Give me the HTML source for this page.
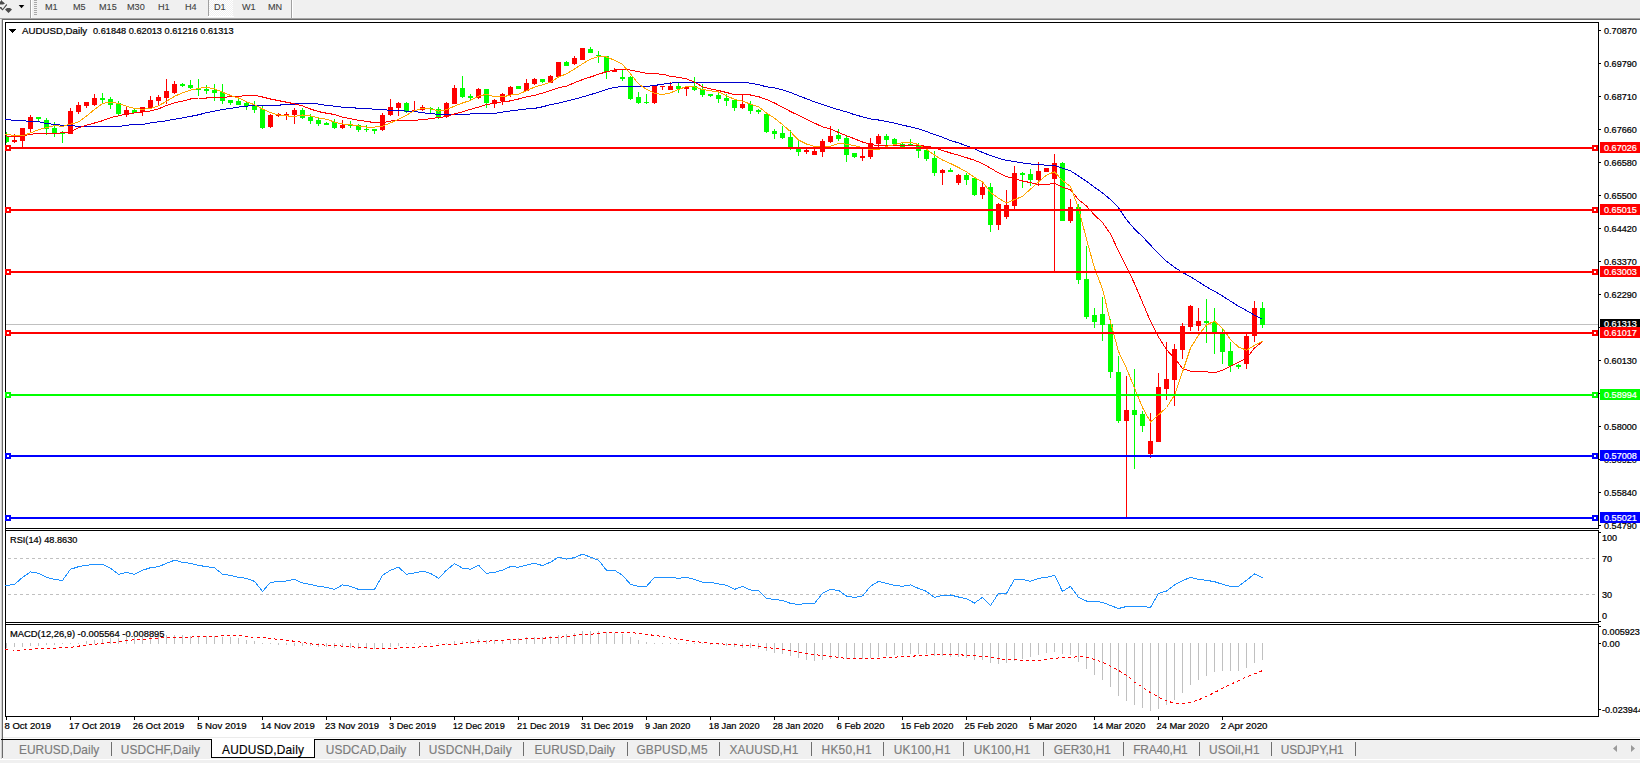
<!DOCTYPE html>
<html><head><meta charset="utf-8"><title>AUDUSD,Daily</title>
<style>
html,body{margin:0;padding:0;background:#fff}
body{width:1640px;height:763px;position:relative;overflow:hidden;font-family:"Liberation Sans",sans-serif}
#tbar{position:absolute;left:0;top:0;width:1640px;height:18px;background:#f0f0f0}
.tf{position:absolute;top:0.5px;font-size:9.8px;line-height:12px;color:#404040;white-space:nowrap;transform:scaleX(.93);transform-origin:0 0;-webkit-text-stroke:0.1px #404040}
#l18{position:absolute;left:0;top:18px;width:1640px;height:1px;background:#a6a6a6}
#l19{position:absolute;left:2px;top:19px;width:1638px;height:1px;background:#696969}
#lb{position:absolute;left:2px;top:19px;width:1px;height:739px;background:#696969}
#lb0{position:absolute;left:0;top:19px;width:2px;height:744px;background:#f0f0f0}
#lb1{position:absolute;left:1px;top:19px;width:1px;height:740px;background:#cfcfcf}
#tabs{position:absolute;left:3px;top:740px;width:1637px;height:19px;background:#f0f0f0}
#tl0{position:absolute;left:3px;top:737px;width:1637px;height:1px;background:#ebebeb}
#tl1{position:absolute;left:1px;top:739px;width:1639px;height:1px;background:#000}
#foot{position:absolute;left:0;top:759px;width:1640px;height:4px;background:#f0f0f0;border-top:1px solid #fff;box-sizing:border-box}
.tb{position:absolute;top:742.7px;font-size:11.9px;line-height:14px;color:#7b7b7b;white-space:nowrap;-webkit-text-stroke:0.15px}
.tb.act{color:#000}
.sp{position:absolute;top:742px;width:1px;height:14px;background:#6e6e6e}
#act{position:absolute;left:211px;top:739px;width:104px;height:19px;background:#fff;border:1px solid #000;border-top:none;box-sizing:border-box}
</style></head><body>
<div id="tbar">
<svg width="30" height="18" style="position:absolute;left:0;top:0"><path d="M0 1.5l1-.3V0h.7v1.1l1 .3L5 3.4 3 4.6H0z M0 7h1.3l1.3 2L6.4 4l.8 1L2.6 10.4 0 8.2z M5 9.4l2-1.3h3l2 1.3L8.5 13z" fill="#4a4a4a"/><path d="M18.7 5h5.6l-2.8 3.2z" fill="#000"/></svg>
<i style="position:absolute;left:30px;top:0;width:1px;height:18px;background:#a0a0a0"></i><i style="position:absolute;left:31px;top:0;width:1px;height:18px;background:#fff"></i>
<i style="position:absolute;left:34px;top:0px;width:3px;height:1px;background:#a8a8a8"></i><i style="position:absolute;left:34px;top:2px;width:3px;height:1px;background:#a8a8a8"></i><i style="position:absolute;left:34px;top:4px;width:3px;height:1px;background:#a8a8a8"></i><i style="position:absolute;left:34px;top:6px;width:3px;height:1px;background:#a8a8a8"></i><i style="position:absolute;left:34px;top:8px;width:3px;height:1px;background:#a8a8a8"></i><i style="position:absolute;left:34px;top:10px;width:3px;height:1px;background:#a8a8a8"></i><i style="position:absolute;left:34px;top:12px;width:3px;height:1px;background:#a8a8a8"></i><i style="position:absolute;left:34px;top:14px;width:3px;height:1px;background:#a8a8a8"></i>
<i style="position:absolute;left:208px;top:0;width:1px;height:16px;background:#a0a0a0"></i>
<i style="position:absolute;left:209px;top:0;width:24px;height:16px;background:repeating-conic-gradient(#fff 0 25%,#f0f0f0 0 50%) 0 0/2px 2px"></i>
<i style="position:absolute;left:208px;top:16px;width:26px;height:1px;background:#fff"></i>
<i style="position:absolute;left:291px;top:0;width:1px;height:18px;background:#a0a0a0"></i><i style="position:absolute;left:292px;top:0;width:1px;height:18px;background:#fff"></i>
<span class="tf" style="left:45px">M1</span><span class="tf" style="left:73.3px">M5</span><span class="tf" style="left:99px">M15</span><span class="tf" style="left:127px">M30</span><span class="tf" style="left:157.8px">H1</span><span class="tf" style="left:185px">H4</span><span class="tf" style="left:213.8px">D1</span><span class="tf" style="left:242px">W1</span><span class="tf" style="left:268px">MN</span>
</div>
<div id="l18"></div><div id="l19"></div><div id="lb0"></div><div id="lb1"></div><div id="lb"></div>
<svg width="1640" height="763" viewBox="0 0 1640 763" style="position:absolute;left:0;top:0" font-family="Liberation Sans, sans-serif">
<defs><clipPath id="cm"><rect x="1600" y="500" width="40" height="29"/></clipPath></defs>
<g shape-rendering="crispEdges">
<rect x="5" y="22" width="1594" height="1" fill="#000"/>
<rect x="5" y="22" width="1" height="695" fill="#000"/>
<rect x="1598" y="22" width="1" height="507" fill="#000"/>
<rect x="5" y="528" width="1594" height="1" fill="#000"/>
<rect x="5" y="530" width="1594" height="1" fill="#000"/>
<rect x="1598" y="530" width="1" height="93" fill="#000"/>
<rect x="5" y="622" width="1594" height="1" fill="#000"/>
<rect x="5" y="624" width="1594" height="1" fill="#000"/>
<rect x="1598" y="624" width="1" height="93" fill="#000"/>
<rect x="5" y="716" width="1594" height="1" fill="#000"/>
<rect x="6" y="717" width="1" height="3" fill="#000"/>
<rect x="70" y="717" width="1" height="3" fill="#000"/>
<rect x="134" y="717" width="1" height="3" fill="#000"/>
<rect x="198" y="717" width="1" height="3" fill="#000"/>
<rect x="262" y="717" width="1" height="3" fill="#000"/>
<rect x="326" y="717" width="1" height="3" fill="#000"/>
<rect x="390" y="717" width="1" height="3" fill="#000"/>
<rect x="454" y="717" width="1" height="3" fill="#000"/>
<rect x="518" y="717" width="1" height="3" fill="#000"/>
<rect x="582" y="717" width="1" height="3" fill="#000"/>
<rect x="646" y="717" width="1" height="3" fill="#000"/>
<rect x="710" y="717" width="1" height="3" fill="#000"/>
<rect x="774" y="717" width="1" height="3" fill="#000"/>
<rect x="838" y="717" width="1" height="3" fill="#000"/>
<rect x="902" y="717" width="1" height="3" fill="#000"/>
<rect x="966" y="717" width="1" height="3" fill="#000"/>
<rect x="1030" y="717" width="1" height="3" fill="#000"/>
<rect x="1094" y="717" width="1" height="3" fill="#000"/>
<rect x="1158" y="717" width="1" height="3" fill="#000"/>
<rect x="1222" y="717" width="1" height="3" fill="#000"/>
<rect x="1599" y="30" width="2" height="1" fill="#000"/>
<rect x="1599" y="63" width="2" height="1" fill="#000"/>
<rect x="1599" y="96" width="2" height="1" fill="#000"/>
<rect x="1599" y="129" width="2" height="1" fill="#000"/>
<rect x="1599" y="162" width="2" height="1" fill="#000"/>
<rect x="1599" y="195" width="2" height="1" fill="#000"/>
<rect x="1599" y="228" width="2" height="1" fill="#000"/>
<rect x="1599" y="261" width="2" height="1" fill="#000"/>
<rect x="1599" y="294" width="2" height="1" fill="#000"/>
<rect x="1599" y="327" width="2" height="1" fill="#000"/>
<rect x="1599" y="360" width="2" height="1" fill="#000"/>
<rect x="1599" y="393" width="2" height="1" fill="#000"/>
<rect x="1599" y="426" width="2" height="1" fill="#000"/>
<rect x="1599" y="459" width="2" height="1" fill="#000"/>
<rect x="1599" y="492" width="2" height="1" fill="#000"/>
<rect x="1599" y="525" width="2" height="1" fill="#000"/>
<rect x="1599" y="532" width="2" height="1" fill="#000"/>
<rect x="1599" y="621" width="2" height="1" fill="#000"/>
<rect x="1599" y="626" width="2" height="1" fill="#000"/>
<rect x="1599" y="643" width="2" height="1" fill="#000"/>
<rect x="1599" y="709" width="2" height="1" fill="#000"/>
<rect x="6" y="324" width="1592" height="1" fill="#c0c0c0"/>
<path d="M8 558.5H1598M8 594.5H1598" stroke="#c0c0c0" stroke-width="1" stroke-dasharray="3 3" fill="none"/>
<g><rect x="6" y="132" width="1" height="11" fill="#00ff00"/><rect x="6" y="137" width="3" height="5" fill="#00ff00"/><rect x="14" y="134" width="1" height="9" fill="#ff0000"/><rect x="12" y="140" width="5" height="2" fill="#ff0000"/><rect x="22" y="128" width="1" height="19" fill="#ff0000"/><rect x="20" y="128" width="5" height="13" fill="#ff0000"/><rect x="30" y="115" width="1" height="18" fill="#ff0000"/><rect x="28" y="117" width="5" height="12" fill="#ff0000"/><rect x="38" y="117" width="1" height="4" fill="#00ff00"/><rect x="36" y="117" width="5" height="2" fill="#00ff00"/><rect x="46" y="118" width="1" height="17" fill="#00ff00"/><rect x="44" y="120" width="5" height="9" fill="#00ff00"/><rect x="54" y="122" width="1" height="15" fill="#00ff00"/><rect x="52" y="128" width="5" height="5" fill="#00ff00"/><rect x="62" y="131" width="1" height="12" fill="#00ff00"/><rect x="60" y="132" width="5" height="2" fill="#00ff00"/><rect x="70" y="108" width="1" height="26" fill="#ff0000"/><rect x="68" y="111" width="5" height="23" fill="#ff0000"/><rect x="78" y="102" width="1" height="12" fill="#ff0000"/><rect x="76" y="105" width="5" height="7" fill="#ff0000"/><rect x="86" y="102" width="1" height="6" fill="#ff0000"/><rect x="84" y="102" width="5" height="4" fill="#ff0000"/><rect x="94" y="94" width="1" height="12" fill="#ff0000"/><rect x="92" y="98" width="5" height="7" fill="#ff0000"/><rect x="102" y="93" width="1" height="10" fill="#00ff00"/><rect x="100" y="98" width="5" height="2" fill="#00ff00"/><rect x="110" y="97" width="1" height="12" fill="#00ff00"/><rect x="108" y="99" width="5" height="6" fill="#00ff00"/><rect x="118" y="101" width="1" height="14" fill="#00ff00"/><rect x="116" y="103" width="5" height="11" fill="#00ff00"/><rect x="126" y="107" width="1" height="10" fill="#ff0000"/><rect x="124" y="110" width="5" height="5" fill="#ff0000"/><rect x="134" y="109" width="1" height="4" fill="#00ff00"/><rect x="132" y="110" width="5" height="3" fill="#00ff00"/><rect x="142" y="107" width="1" height="9" fill="#ff0000"/><rect x="140" y="107" width="5" height="5" fill="#ff0000"/><rect x="150" y="96" width="1" height="12" fill="#ff0000"/><rect x="148" y="100" width="5" height="8" fill="#ff0000"/><rect x="158" y="95" width="1" height="10" fill="#ff0000"/><rect x="156" y="97" width="5" height="4" fill="#ff0000"/><rect x="166" y="79" width="1" height="25" fill="#ff0000"/><rect x="164" y="91" width="5" height="7" fill="#ff0000"/><rect x="174" y="81" width="1" height="13" fill="#ff0000"/><rect x="172" y="84" width="5" height="9" fill="#ff0000"/><rect x="182" y="83" width="1" height="4" fill="#00ff00"/><rect x="180" y="84" width="5" height="2" fill="#00ff00"/><rect x="190" y="80" width="1" height="9" fill="#00ff00"/><rect x="188" y="85" width="5" height="3" fill="#00ff00"/><rect x="198" y="79" width="1" height="17" fill="#00ff00"/><rect x="196" y="88" width="5" height="2" fill="#00ff00"/><rect x="206" y="85" width="1" height="9" fill="#00ff00"/><rect x="204" y="89" width="5" height="2" fill="#00ff00"/><rect x="214" y="84" width="1" height="17" fill="#00ff00"/><rect x="212" y="90" width="5" height="3" fill="#00ff00"/><rect x="222" y="84" width="1" height="20" fill="#00ff00"/><rect x="220" y="92" width="5" height="9" fill="#00ff00"/><rect x="230" y="100" width="1" height="5" fill="#00ff00"/><rect x="228" y="100" width="5" height="3" fill="#00ff00"/><rect x="238" y="99" width="1" height="6" fill="#00ff00"/><rect x="236" y="101" width="5" height="4" fill="#00ff00"/><rect x="246" y="102" width="1" height="8" fill="#00ff00"/><rect x="244" y="103" width="5" height="3" fill="#00ff00"/><rect x="254" y="101" width="1" height="12" fill="#00ff00"/><rect x="252" y="105" width="5" height="5" fill="#00ff00"/><rect x="262" y="106" width="1" height="23" fill="#00ff00"/><rect x="260" y="109" width="5" height="19" fill="#00ff00"/><rect x="270" y="114" width="1" height="14" fill="#ff0000"/><rect x="268" y="115" width="5" height="12" fill="#ff0000"/><rect x="278" y="113" width="1" height="4" fill="#ff0000"/><rect x="276" y="114" width="5" height="2" fill="#ff0000"/><rect x="286" y="112" width="1" height="8" fill="#ff0000"/><rect x="284" y="114" width="5" height="2" fill="#ff0000"/><rect x="294" y="108" width="1" height="16" fill="#ff0000"/><rect x="292" y="110" width="5" height="5" fill="#ff0000"/><rect x="302" y="108" width="1" height="11" fill="#00ff00"/><rect x="300" y="110" width="5" height="8" fill="#00ff00"/><rect x="310" y="114" width="1" height="10" fill="#00ff00"/><rect x="308" y="117" width="5" height="4" fill="#00ff00"/><rect x="318" y="118" width="1" height="8" fill="#00ff00"/><rect x="316" y="120" width="5" height="4" fill="#00ff00"/><rect x="326" y="122" width="1" height="3" fill="#00ff00"/><rect x="324" y="123" width="5" height="2" fill="#00ff00"/><rect x="334" y="119" width="1" height="10" fill="#00ff00"/><rect x="332" y="122" width="5" height="6" fill="#00ff00"/><rect x="342" y="120" width="1" height="9" fill="#ff0000"/><rect x="340" y="125" width="5" height="3" fill="#ff0000"/><rect x="350" y="121" width="1" height="7" fill="#00ff00"/><rect x="348" y="125" width="5" height="1" fill="#00ff00"/><rect x="358" y="124" width="1" height="8" fill="#00ff00"/><rect x="356" y="125" width="5" height="5" fill="#00ff00"/><rect x="366" y="125" width="1" height="7" fill="#00ff00"/><rect x="364" y="129" width="5" height="1" fill="#00ff00"/><rect x="374" y="129" width="1" height="5" fill="#00ff00"/><rect x="372" y="129" width="5" height="2" fill="#00ff00"/><rect x="382" y="113" width="1" height="18" fill="#ff0000"/><rect x="380" y="115" width="5" height="15" fill="#ff0000"/><rect x="390" y="99" width="1" height="17" fill="#ff0000"/><rect x="388" y="107" width="5" height="8" fill="#ff0000"/><rect x="398" y="102" width="1" height="14" fill="#ff0000"/><rect x="396" y="103" width="5" height="5" fill="#ff0000"/><rect x="406" y="102" width="1" height="11" fill="#00ff00"/><rect x="404" y="103" width="5" height="9" fill="#00ff00"/><rect x="414" y="101" width="1" height="10" fill="#ff0000"/><rect x="412" y="110" width="5" height="1" fill="#ff0000"/><rect x="422" y="105" width="1" height="6" fill="#ff0000"/><rect x="420" y="107" width="5" height="3" fill="#ff0000"/><rect x="430" y="107" width="1" height="6" fill="#00ff00"/><rect x="428" y="108" width="5" height="1" fill="#00ff00"/><rect x="438" y="107" width="1" height="12" fill="#00ff00"/><rect x="436" y="109" width="5" height="8" fill="#00ff00"/><rect x="446" y="102" width="1" height="16" fill="#ff0000"/><rect x="444" y="103" width="5" height="14" fill="#ff0000"/><rect x="454" y="85" width="1" height="19" fill="#ff0000"/><rect x="452" y="88" width="5" height="16" fill="#ff0000"/><rect x="462" y="76" width="1" height="22" fill="#00ff00"/><rect x="460" y="88" width="5" height="9" fill="#00ff00"/><rect x="470" y="94" width="1" height="6" fill="#00ff00"/><rect x="468" y="96" width="5" height="2" fill="#00ff00"/><rect x="478" y="88" width="1" height="11" fill="#ff0000"/><rect x="476" y="89" width="5" height="9" fill="#ff0000"/><rect x="486" y="89" width="1" height="19" fill="#00ff00"/><rect x="484" y="89" width="5" height="14" fill="#00ff00"/><rect x="494" y="99" width="1" height="9" fill="#ff0000"/><rect x="492" y="100" width="5" height="4" fill="#ff0000"/><rect x="502" y="93" width="1" height="12" fill="#ff0000"/><rect x="500" y="94" width="5" height="7" fill="#ff0000"/><rect x="510" y="86" width="1" height="11" fill="#ff0000"/><rect x="508" y="87" width="5" height="8" fill="#ff0000"/><rect x="518" y="86" width="1" height="3" fill="#00ff00"/><rect x="516" y="86" width="5" height="3" fill="#00ff00"/><rect x="526" y="79" width="1" height="12" fill="#ff0000"/><rect x="524" y="83" width="5" height="8" fill="#ff0000"/><rect x="534" y="78" width="1" height="7" fill="#ff0000"/><rect x="532" y="79" width="5" height="5" fill="#ff0000"/><rect x="542" y="79" width="1" height="4" fill="#00ff00"/><rect x="540" y="79" width="5" height="3" fill="#00ff00"/><rect x="550" y="75" width="1" height="8" fill="#ff0000"/><rect x="548" y="76" width="5" height="7" fill="#ff0000"/><rect x="558" y="62" width="1" height="15" fill="#ff0000"/><rect x="556" y="62" width="5" height="15" fill="#ff0000"/><rect x="566" y="61" width="1" height="5" fill="#00ff00"/><rect x="564" y="62" width="5" height="4" fill="#00ff00"/><rect x="574" y="56" width="1" height="9" fill="#ff0000"/><rect x="572" y="58" width="5" height="6" fill="#ff0000"/><rect x="582" y="48" width="1" height="12" fill="#ff0000"/><rect x="580" y="48" width="5" height="12" fill="#ff0000"/><rect x="590" y="47" width="1" height="6" fill="#00ff00"/><rect x="588" y="49" width="5" height="4" fill="#00ff00"/><rect x="598" y="51" width="1" height="12" fill="#00ff00"/><rect x="596" y="55" width="5" height="1" fill="#00ff00"/><rect x="606" y="56" width="1" height="23" fill="#00ff00"/><rect x="604" y="56" width="5" height="16" fill="#00ff00"/><rect x="614" y="68" width="1" height="4" fill="#ff0000"/><rect x="612" y="70" width="5" height="2" fill="#ff0000"/><rect x="622" y="70" width="1" height="11" fill="#00ff00"/><rect x="620" y="77" width="5" height="2" fill="#00ff00"/><rect x="630" y="76" width="1" height="24" fill="#00ff00"/><rect x="628" y="77" width="5" height="22" fill="#00ff00"/><rect x="638" y="92" width="1" height="12" fill="#00ff00"/><rect x="636" y="97" width="5" height="6" fill="#00ff00"/><rect x="646" y="94" width="1" height="10" fill="#00ff00"/><rect x="644" y="102" width="5" height="1" fill="#00ff00"/><rect x="654" y="86" width="1" height="18" fill="#ff0000"/><rect x="652" y="86" width="5" height="17" fill="#ff0000"/><rect x="662" y="86" width="1" height="4" fill="#ff0000"/><rect x="660" y="86" width="5" height="1" fill="#ff0000"/><rect x="670" y="82" width="1" height="8" fill="#ff0000"/><rect x="668" y="86" width="5" height="4" fill="#ff0000"/><rect x="678" y="83" width="1" height="10" fill="#00ff00"/><rect x="676" y="86" width="5" height="3" fill="#00ff00"/><rect x="686" y="87" width="1" height="9" fill="#ff0000"/><rect x="684" y="87" width="5" height="2" fill="#ff0000"/><rect x="694" y="77" width="1" height="14" fill="#00ff00"/><rect x="692" y="86" width="5" height="4" fill="#00ff00"/><rect x="702" y="84" width="1" height="13" fill="#00ff00"/><rect x="700" y="89" width="5" height="6" fill="#00ff00"/><rect x="710" y="94" width="1" height="3" fill="#00ff00"/><rect x="708" y="94" width="5" height="2" fill="#00ff00"/><rect x="718" y="91" width="1" height="12" fill="#00ff00"/><rect x="716" y="95" width="5" height="4" fill="#00ff00"/><rect x="726" y="94" width="1" height="12" fill="#00ff00"/><rect x="724" y="98" width="5" height="3" fill="#00ff00"/><rect x="734" y="100" width="1" height="11" fill="#00ff00"/><rect x="732" y="100" width="5" height="8" fill="#00ff00"/><rect x="742" y="94" width="1" height="15" fill="#ff0000"/><rect x="740" y="104" width="5" height="4" fill="#ff0000"/><rect x="750" y="101" width="1" height="13" fill="#00ff00"/><rect x="748" y="104" width="5" height="7" fill="#00ff00"/><rect x="758" y="109" width="1" height="5" fill="#00ff00"/><rect x="756" y="110" width="5" height="2" fill="#00ff00"/><rect x="766" y="114" width="1" height="19" fill="#00ff00"/><rect x="764" y="114" width="5" height="18" fill="#00ff00"/><rect x="774" y="129" width="1" height="10" fill="#00ff00"/><rect x="772" y="131" width="5" height="3" fill="#00ff00"/><rect x="782" y="126" width="1" height="13" fill="#00ff00"/><rect x="780" y="133" width="5" height="5" fill="#00ff00"/><rect x="790" y="130" width="1" height="20" fill="#00ff00"/><rect x="788" y="137" width="5" height="11" fill="#00ff00"/><rect x="798" y="141" width="1" height="15" fill="#00ff00"/><rect x="796" y="149" width="5" height="3" fill="#00ff00"/><rect x="806" y="149" width="1" height="5" fill="#ff0000"/><rect x="804" y="150" width="5" height="2" fill="#ff0000"/><rect x="814" y="149" width="1" height="6" fill="#ff0000"/><rect x="812" y="151" width="5" height="4" fill="#ff0000"/><rect x="822" y="139" width="1" height="18" fill="#ff0000"/><rect x="820" y="141" width="5" height="11" fill="#ff0000"/><rect x="830" y="126" width="1" height="17" fill="#ff0000"/><rect x="828" y="136" width="5" height="6" fill="#ff0000"/><rect x="838" y="129" width="1" height="12" fill="#00ff00"/><rect x="836" y="135" width="5" height="4" fill="#00ff00"/><rect x="846" y="136" width="1" height="26" fill="#00ff00"/><rect x="844" y="138" width="5" height="17" fill="#00ff00"/><rect x="854" y="153" width="1" height="5" fill="#00ff00"/><rect x="852" y="153" width="5" height="4" fill="#00ff00"/><rect x="862" y="149" width="1" height="12" fill="#ff0000"/><rect x="860" y="156" width="5" height="2" fill="#ff0000"/><rect x="870" y="138" width="1" height="21" fill="#ff0000"/><rect x="868" y="143" width="5" height="14" fill="#ff0000"/><rect x="878" y="134" width="1" height="13" fill="#ff0000"/><rect x="876" y="136" width="5" height="8" fill="#ff0000"/><rect x="886" y="134" width="1" height="11" fill="#00ff00"/><rect x="884" y="136" width="5" height="4" fill="#00ff00"/><rect x="894" y="138" width="1" height="8" fill="#00ff00"/><rect x="892" y="139" width="5" height="5" fill="#00ff00"/><rect x="902" y="143" width="1" height="4" fill="#00ff00"/><rect x="900" y="144" width="5" height="3" fill="#00ff00"/><rect x="910" y="139" width="1" height="7" fill="#00ff00"/><rect x="908" y="144" width="5" height="2" fill="#00ff00"/><rect x="918" y="143" width="1" height="15" fill="#00ff00"/><rect x="916" y="146" width="5" height="5" fill="#00ff00"/><rect x="926" y="149" width="1" height="12" fill="#00ff00"/><rect x="924" y="150" width="5" height="9" fill="#00ff00"/><rect x="934" y="151" width="1" height="25" fill="#00ff00"/><rect x="932" y="158" width="5" height="15" fill="#00ff00"/><rect x="942" y="169" width="1" height="16" fill="#ff0000"/><rect x="940" y="170" width="5" height="3" fill="#ff0000"/><rect x="950" y="168" width="1" height="4" fill="#00ff00"/><rect x="948" y="170" width="5" height="2" fill="#00ff00"/><rect x="958" y="174" width="1" height="11" fill="#ff0000"/><rect x="956" y="175" width="5" height="8" fill="#ff0000"/><rect x="966" y="173" width="1" height="12" fill="#00ff00"/><rect x="964" y="175" width="5" height="5" fill="#00ff00"/><rect x="974" y="178" width="1" height="18" fill="#00ff00"/><rect x="972" y="178" width="5" height="17" fill="#00ff00"/><rect x="982" y="183" width="1" height="16" fill="#ff0000"/><rect x="980" y="187" width="5" height="8" fill="#ff0000"/><rect x="990" y="183" width="1" height="49" fill="#00ff00"/><rect x="988" y="187" width="5" height="38" fill="#00ff00"/><rect x="998" y="203" width="1" height="27" fill="#ff0000"/><rect x="996" y="204" width="5" height="21" fill="#ff0000"/><rect x="1006" y="190" width="1" height="29" fill="#ff0000"/><rect x="1004" y="205" width="5" height="12" fill="#ff0000"/><rect x="1014" y="166" width="1" height="43" fill="#ff0000"/><rect x="1012" y="173" width="5" height="33" fill="#ff0000"/><rect x="1022" y="172" width="1" height="16" fill="#00ff00"/><rect x="1020" y="173" width="5" height="2" fill="#00ff00"/><rect x="1030" y="169" width="1" height="17" fill="#00ff00"/><rect x="1028" y="174" width="5" height="6" fill="#00ff00"/><rect x="1038" y="162" width="1" height="24" fill="#ff0000"/><rect x="1036" y="171" width="5" height="9" fill="#ff0000"/><rect x="1046" y="168" width="1" height="4" fill="#ff0000"/><rect x="1044" y="168" width="5" height="4" fill="#ff0000"/><rect x="1054" y="154" width="1" height="117" fill="#ff0000"/><rect x="1052" y="163" width="5" height="16" fill="#ff0000"/><rect x="1062" y="162" width="1" height="59" fill="#00ff00"/><rect x="1060" y="163" width="5" height="58" fill="#00ff00"/><rect x="1070" y="199" width="1" height="24" fill="#ff0000"/><rect x="1068" y="207" width="5" height="14" fill="#ff0000"/><rect x="1078" y="204" width="1" height="80" fill="#00ff00"/><rect x="1076" y="207" width="5" height="73" fill="#00ff00"/><rect x="1086" y="246" width="1" height="73" fill="#00ff00"/><rect x="1084" y="279" width="5" height="38" fill="#00ff00"/><rect x="1094" y="308" width="1" height="20" fill="#00ff00"/><rect x="1092" y="315" width="5" height="7" fill="#00ff00"/><rect x="1102" y="297" width="1" height="44" fill="#00ff00"/><rect x="1100" y="314" width="5" height="11" fill="#00ff00"/><rect x="1110" y="319" width="1" height="59" fill="#00ff00"/><rect x="1108" y="324" width="5" height="48" fill="#00ff00"/><rect x="1118" y="356" width="1" height="67" fill="#00ff00"/><rect x="1116" y="372" width="5" height="49" fill="#00ff00"/><rect x="1126" y="376" width="1" height="141" fill="#ff0000"/><rect x="1124" y="410" width="5" height="11" fill="#ff0000"/><rect x="1134" y="369" width="1" height="100" fill="#00ff00"/><rect x="1132" y="410" width="5" height="5" fill="#00ff00"/><rect x="1142" y="411" width="1" height="21" fill="#00ff00"/><rect x="1140" y="414" width="5" height="12" fill="#00ff00"/><rect x="1150" y="413" width="1" height="45" fill="#ff0000"/><rect x="1148" y="441" width="5" height="13" fill="#ff0000"/><rect x="1158" y="373" width="1" height="69" fill="#ff0000"/><rect x="1156" y="387" width="5" height="55" fill="#ff0000"/><rect x="1166" y="342" width="1" height="58" fill="#ff0000"/><rect x="1164" y="379" width="5" height="10" fill="#ff0000"/><rect x="1174" y="344" width="1" height="62" fill="#ff0000"/><rect x="1172" y="349" width="5" height="31" fill="#ff0000"/><rect x="1182" y="323" width="1" height="36" fill="#ff0000"/><rect x="1180" y="326" width="5" height="24" fill="#ff0000"/><rect x="1190" y="305" width="1" height="26" fill="#ff0000"/><rect x="1188" y="306" width="5" height="21" fill="#ff0000"/><rect x="1198" y="308" width="1" height="23" fill="#ff0000"/><rect x="1196" y="321" width="5" height="5" fill="#ff0000"/><rect x="1206" y="299" width="1" height="44" fill="#00ff00"/><rect x="1204" y="321" width="5" height="2" fill="#00ff00"/><rect x="1214" y="308" width="1" height="46" fill="#00ff00"/><rect x="1212" y="322" width="5" height="11" fill="#00ff00"/><rect x="1222" y="328" width="1" height="36" fill="#00ff00"/><rect x="1220" y="333" width="5" height="19" fill="#00ff00"/><rect x="1230" y="342" width="1" height="30" fill="#00ff00"/><rect x="1228" y="351" width="5" height="15" fill="#00ff00"/><rect x="1238" y="364" width="1" height="5" fill="#00ff00"/><rect x="1236" y="365" width="5" height="2" fill="#00ff00"/><rect x="1246" y="334" width="1" height="35" fill="#ff0000"/><rect x="1244" y="336" width="5" height="28" fill="#ff0000"/><rect x="1254" y="301" width="1" height="41" fill="#ff0000"/><rect x="1252" y="308" width="5" height="28" fill="#ff0000"/><rect x="1262" y="302" width="1" height="26" fill="#00ff00"/><rect x="1260" y="308" width="5" height="17" fill="#00ff00"/></g>
<polyline points="5.5,119.1 6.5,119.3 14.5,120.6 22.5,120.7 30.5,121.4 38.5,121.6 46.5,123.5 54.5,124.5 62.5,125.3 70.5,125.3 78.5,126.6 86.5,126.6 94.5,126.6 102.5,126.6 110.5,126.6 118.5,126.6 126.5,125.3 134.5,124.5 142.5,124.5 150.5,123 158.5,121.7 166.5,120.8 174.5,119.2 182.5,117.9 190.5,116.4 198.5,114.8 206.5,112.7 214.5,111.1 222.5,109.5 230.5,108.5 238.5,107.1 246.5,106.1 254.5,105.7 262.5,105.7 270.5,105.7 278.5,105.3 286.5,104.1 294.5,104.1 302.5,103.2 310.5,103.2 318.5,104.1 326.5,105.4 334.5,106.1 342.5,107.2 350.5,107.7 358.5,108.2 366.5,108.2 374.5,109.3 382.5,109.3 390.5,110.7 398.5,110.7 406.5,111.1 414.5,111.4 422.5,112.8 430.5,113.5 438.5,114.5 446.5,114.5 454.5,114.5 462.5,114.5 470.5,114 478.5,113.5 486.5,113.5 494.5,113.4 502.5,112.1 510.5,111 518.5,110 526.5,108.9 534.5,108.4 542.5,106.8 550.5,104.7 558.5,103.2 566.5,101.1 574.5,99.2 582.5,96.9 590.5,94.6 598.5,92.2 606.5,89.5 614.5,87.4 622.5,86.4 630.5,86.4 638.5,86.4 646.5,86.5 654.5,85.5 662.5,84.2 670.5,83.1 678.5,82.6 686.5,82.6 694.5,82.6 702.5,82.6 710.5,82.6 718.5,82.6 726.5,82.6 734.5,82.6 742.5,82.6 750.5,83.1 758.5,84.7 766.5,86.8 774.5,87.8 782.5,89.9 790.5,92.5 798.5,95.7 806.5,98.8 814.5,101.8 822.5,104.6 830.5,107.2 838.5,109.7 846.5,111.9 854.5,114.7 862.5,116.8 870.5,118.9 878.5,120 886.5,121.5 894.5,123.1 902.5,125.2 910.5,126.8 918.5,128.9 926.5,131.5 934.5,134.6 942.5,137.3 950.5,140.5 958.5,142.9 966.5,145.9 974.5,148.9 982.5,152.5 990.5,155.5 998.5,158.3 1006.5,160.3 1014.5,161.6 1022.5,162.9 1030.5,164 1038.5,164.5 1046.5,165.2 1054.5,165.6 1062.5,168.2 1070.5,170.8 1078.5,176 1086.5,181.3 1094.5,187.2 1102.5,193 1110.5,199.5 1118.5,207.7 1126.5,219.6 1134.5,229 1142.5,236.6 1150.5,245.1 1158.5,253.7 1166.5,261.3 1174.5,267.3 1182.5,272.4 1190.5,276.7 1198.5,281.8 1206.5,286.9 1214.5,291.3 1222.5,296 1230.5,301.1 1238.5,306.2 1246.5,310.5 1254.5,315.2 1262.5,319.3" fill="none" stroke="#0000cd" stroke-width="1" />
<polyline points="5.5,135.9 6.5,136 14.5,136.5 22.5,135.9 30.5,134.2 38.5,133.5 46.5,133.2 54.5,133.2 62.5,132.9 70.5,131.9 78.5,127.7 86.5,125.1 94.5,123 102.5,120.7 110.5,117.7 118.5,115.8 126.5,114 134.5,113 142.5,112 150.5,110.9 158.5,108.8 166.5,105.5 174.5,102.7 182.5,101.1 190.5,99 198.5,98 206.5,98 214.5,97.5 222.5,97.5 230.5,96.6 238.5,96.4 246.5,95.4 254.5,95.2 262.5,97 270.5,99 278.5,100.6 286.5,102.2 294.5,103.8 302.5,105.9 310.5,109 318.5,111.6 326.5,113.2 334.5,114.5 342.5,117.2 350.5,118.7 358.5,120.3 366.5,121.4 374.5,122.6 382.5,122.6 390.5,121.1 398.5,120.3 406.5,120.3 414.5,120.3 422.5,119.6 430.5,118.7 438.5,117.5 446.5,116.6 454.5,114 462.5,111.9 470.5,109.3 478.5,107.2 486.5,104.6 494.5,103.2 502.5,101.8 510.5,100.9 518.5,99 526.5,96.9 534.5,95.3 542.5,93.2 550.5,90.6 558.5,87.8 566.5,86.1 574.5,82.7 582.5,79.6 590.5,77 598.5,74.3 606.5,71.7 614.5,70.1 622.5,69.1 630.5,70.1 638.5,71.7 646.5,73.3 654.5,73.7 662.5,74.2 670.5,76.3 678.5,77.3 686.5,78.9 694.5,82.1 702.5,86.8 710.5,88.9 718.5,90.5 726.5,92.5 734.5,94.6 742.5,94.6 750.5,95 758.5,96.7 766.5,99.4 774.5,103 782.5,107.2 790.5,111.5 798.5,115.4 806.5,119.3 814.5,123.1 822.5,126.8 830.5,128.9 838.5,132.5 846.5,135.7 854.5,138.8 862.5,142 870.5,144.4 878.5,145.7 886.5,145.7 894.5,145.7 902.5,145.7 910.5,145.1 918.5,145.7 926.5,146.2 934.5,147.8 942.5,150.4 950.5,153 958.5,155.1 966.5,157.7 974.5,160.3 982.5,163.6 990.5,168.2 998.5,172.8 1006.5,176.7 1014.5,178.7 1022.5,181 1030.5,182.6 1038.5,184.6 1046.5,184.6 1054.5,183.3 1062.5,187.2 1070.5,189.8 1078.5,199.6 1086.5,206 1094.5,215 1102.5,222.5 1110.5,234 1118.5,251 1126.5,267 1134.5,283.5 1142.5,302.5 1150.5,321.3 1158.5,336.9 1166.5,349.7 1174.5,358.2 1182.5,368.4 1190.5,371.3 1198.5,371.5 1206.5,371.8 1214.5,372.7 1222.5,370.1 1230.5,366.2 1238.5,362.4 1246.5,358.2 1254.5,348 1262.5,341.6" fill="none" stroke="#ff0000" stroke-width="1" />
<polyline points="5.5,134.0 6.5,134.2 14.5,135.5 22.5,135.9 30.5,132.9 38.5,129.8 46.5,127.5 54.5,125.6 62.5,126.3 70.5,124.2 78.5,121.9 86.5,116.1 94.5,109.5 102.5,103.4 110.5,102.3 118.5,103.4 126.5,106.2 134.5,108.5 142.5,109.3 150.5,108.5 158.5,105.7 166.5,101.3 174.5,96.4 182.5,92.8 190.5,90.1 198.5,88.4 206.5,87.3 214.5,88.8 222.5,92.2 230.5,95.4 238.5,98 246.5,101.7 254.5,104.8 262.5,109 270.5,112.7 278.5,115 286.5,115.8 294.5,116.6 302.5,115 310.5,115.8 318.5,117.9 326.5,119.2 334.5,122.1 342.5,124 350.5,124.7 358.5,125.9 366.5,127.1 374.5,127.1 382.5,126.1 390.5,122.9 398.5,119.3 406.5,115.1 414.5,110.7 422.5,108.2 430.5,108.8 438.5,111.1 446.5,109.8 454.5,106.1 462.5,103 470.5,100.4 478.5,96.2 486.5,94.3 494.5,96.9 502.5,96.9 510.5,95.1 518.5,94.3 526.5,90.6 534.5,87.1 542.5,84.8 550.5,82.2 558.5,77 566.5,73.8 574.5,69.1 582.5,63.8 590.5,59.1 598.5,56.5 606.5,57 614.5,60.2 622.5,64.4 630.5,73.8 638.5,83.8 646.5,89.5 654.5,93.1 662.5,94.6 670.5,92.9 678.5,89.4 686.5,86.6 694.5,86.8 702.5,89.4 710.5,90.7 718.5,92 726.5,95.7 734.5,99.4 742.5,101.1 750.5,104.1 758.5,106.7 766.5,113 774.5,118.2 782.5,124.6 790.5,131.7 798.5,140 806.5,144 814.5,146.4 822.5,147.3 830.5,146.2 838.5,143.6 846.5,144.1 854.5,145.7 862.5,147.5 870.5,149.6 878.5,149.6 886.5,146.4 894.5,144.6 902.5,142.5 910.5,142.3 918.5,144.6 926.5,149.3 934.5,155.1 942.5,160 950.5,163.5 958.5,167.5 966.5,171.8 974.5,177.4 982.5,181.9 990.5,192.4 998.5,198.3 1006.5,202.9 1014.5,199.6 1022.5,196.4 1030.5,189.1 1038.5,181.9 1046.5,175.1 1054.5,171.8 1062.5,180.6 1070.5,186.5 1078.5,208 1086.5,239.2 1094.5,268.1 1102.5,289 1110.5,322 1118.5,351.4 1126.5,368.4 1134.5,388 1142.5,407.5 1150.5,422 1158.5,414.8 1166.5,407.5 1174.5,395.3 1182.5,372 1190.5,348 1198.5,335.2 1206.5,324.9 1214.5,321.2 1222.5,328.4 1230.5,339.4 1238.5,347.1 1246.5,350.2 1254.5,345.4 1262.5,341.1" fill="none" stroke="#ffa500" stroke-width="1" />
<rect x="5" y="147" width="1593" height="2" fill="#ff0000"/>
<rect x="5" y="145" width="6" height="6" fill="#ff0000"/>
<rect x="7" y="147" width="2" height="2" fill="#fff"/>
<rect x="1592" y="145" width="6" height="6" fill="#ff0000"/>
<rect x="1594" y="147" width="2" height="2" fill="#fff"/>
<rect x="5" y="209" width="1593" height="2" fill="#ff0000"/>
<rect x="5" y="207" width="6" height="6" fill="#ff0000"/>
<rect x="7" y="209" width="2" height="2" fill="#fff"/>
<rect x="1592" y="207" width="6" height="6" fill="#ff0000"/>
<rect x="1594" y="209" width="2" height="2" fill="#fff"/>
<rect x="5" y="271" width="1593" height="2" fill="#ff0000"/>
<rect x="5" y="269" width="6" height="6" fill="#ff0000"/>
<rect x="7" y="271" width="2" height="2" fill="#fff"/>
<rect x="1592" y="269" width="6" height="6" fill="#ff0000"/>
<rect x="1594" y="271" width="2" height="2" fill="#fff"/>
<rect x="5" y="332" width="1593" height="2" fill="#ff0000"/>
<rect x="5" y="330" width="6" height="6" fill="#ff0000"/>
<rect x="7" y="332" width="2" height="2" fill="#fff"/>
<rect x="1592" y="330" width="6" height="6" fill="#ff0000"/>
<rect x="1594" y="332" width="2" height="2" fill="#fff"/>
<rect x="5" y="394" width="1593" height="2" fill="#00ff00"/>
<rect x="5" y="392" width="6" height="6" fill="#00ff00"/>
<rect x="7" y="394" width="2" height="2" fill="#fff"/>
<rect x="1592" y="392" width="6" height="6" fill="#00ff00"/>
<rect x="1594" y="394" width="2" height="2" fill="#fff"/>
<rect x="5" y="455" width="1593" height="2" fill="#0000ff"/>
<rect x="5" y="453" width="6" height="6" fill="#0000ff"/>
<rect x="7" y="455" width="2" height="2" fill="#fff"/>
<rect x="1592" y="453" width="6" height="6" fill="#0000ff"/>
<rect x="1594" y="455" width="2" height="2" fill="#fff"/>
<rect x="5" y="517" width="1593" height="2" fill="#0000ff"/>
<rect x="5" y="515" width="6" height="6" fill="#0000ff"/>
<rect x="7" y="517" width="2" height="2" fill="#fff"/>
<rect x="1592" y="515" width="6" height="6" fill="#0000ff"/>
<rect x="1594" y="517" width="2" height="2" fill="#fff"/>
<polyline points="5.5,585.5 6.5,585.4 14.5,584.4 22.5,577.3 30.5,571.9 38.5,573.3 46.5,577.3 54.5,579.4 62.5,580.4 70.5,569.3 78.5,566.7 86.5,565.3 94.5,564.3 102.5,564.3 110.5,568.3 118.5,574.3 126.5,572.3 134.5,574.3 142.5,570.3 150.5,567.7 158.5,566.7 166.5,563.3 174.5,560.2 182.5,562.3 190.5,563.3 198.5,565.3 206.5,566.7 214.5,567.7 222.5,574.3 230.5,575.3 238.5,577.3 246.5,578.4 254.5,581.4 262.5,591.4 270.5,582.4 278.5,581.4 286.5,581 294.5,579.4 302.5,583 310.5,584.4 318.5,586.4 326.5,587.3 334.5,589.4 342.5,584.9 350.5,586.3 358.5,589.4 366.5,589.4 374.5,589.4 382.5,575.3 390.5,570.2 398.5,567.2 406.5,574.3 414.5,572.9 422.5,571.2 430.5,573.3 438.5,578.3 446.5,570.2 454.5,563.6 462.5,568.2 470.5,569.2 478.5,565.2 486.5,573.3 494.5,572.3 502.5,570.2 510.5,566.6 518.5,567.2 526.5,565.2 534.5,563.2 542.5,565.6 550.5,562.2 558.5,557.2 566.5,559.2 574.5,557.6 582.5,554.1 590.5,557.2 598.5,560.2 606.5,570.2 614.5,570.2 622.5,575.3 630.5,584.3 638.5,586.3 646.5,586.3 654.5,577.3 662.5,577.3 670.5,577.3 678.5,578.3 686.5,577.3 694.5,579.3 702.5,582.3 710.5,582.3 718.5,583.9 726.5,585.3 734.5,589.4 742.5,586.3 750.5,590 758.5,590.4 766.5,598.4 774.5,599.4 782.5,600.4 790.5,603.4 798.5,604.4 806.5,603.4 814.5,603.4 822.5,593.4 830.5,589.4 838.5,590.4 846.5,596 854.5,597.4 862.5,596 870.5,586.3 878.5,581.3 886.5,583.3 894.5,585.3 902.5,586.3 910.5,584.9 918.5,588.4 926.5,591.4 934.5,597.4 942.5,595.4 950.5,595 958.5,597 966.5,598.8 974.5,603 982.5,597.4 990.5,605.5 998.5,593.4 1006.5,593.4 1014.5,579.3 1022.5,579.3 1030.5,581.3 1038.5,578.3 1046.5,577.3 1054.5,575.3 1062.5,591.4 1070.5,586.3 1078.5,597.4 1086.5,601 1094.5,601 1102.5,602.4 1110.5,605.5 1118.5,608.5 1126.5,606.5 1134.5,606.5 1142.5,606.5 1150.5,607.5 1158.5,593.4 1166.5,591 1174.5,584.9 1182.5,580.7 1190.5,577.3 1198.5,579.3 1206.5,580.3 1214.5,581.7 1222.5,584.3 1230.5,586.3 1238.5,586.3 1246.5,580.3 1254.5,573.9 1262.5,577.7" fill="none" stroke="#1e90ff" stroke-width="1" />
<g><rect x="6" y="643" width="1" height="5" fill="#c0c0c0"/><rect x="14" y="643" width="1" height="4" fill="#c0c0c0"/><rect x="22" y="643" width="1" height="4" fill="#c0c0c0"/><rect x="30" y="643" width="1" height="3" fill="#c0c0c0"/><rect x="38" y="643" width="1" height="3" fill="#c0c0c0"/><rect x="46" y="643" width="1" height="2" fill="#c0c0c0"/><rect x="54" y="643" width="1" height="2" fill="#c0c0c0"/><rect x="62" y="643" width="1" height="1" fill="#c0c0c0"/><rect x="70" y="643" width="1" height="1" fill="#c0c0c0"/><rect x="78" y="643" width="1" height="1" fill="#c0c0c0"/><rect x="86" y="641" width="1" height="3" fill="#c0c0c0"/><rect x="94" y="640" width="1" height="4" fill="#c0c0c0"/><rect x="102" y="639" width="1" height="5" fill="#c0c0c0"/><rect x="110" y="638" width="1" height="6" fill="#c0c0c0"/><rect x="118" y="638" width="1" height="6" fill="#c0c0c0"/><rect x="126" y="637" width="1" height="7" fill="#c0c0c0"/><rect x="134" y="637" width="1" height="7" fill="#c0c0c0"/><rect x="142" y="637" width="1" height="7" fill="#c0c0c0"/><rect x="150" y="636" width="1" height="8" fill="#c0c0c0"/><rect x="158" y="636" width="1" height="8" fill="#c0c0c0"/><rect x="166" y="635" width="1" height="9" fill="#c0c0c0"/><rect x="174" y="635" width="1" height="9" fill="#c0c0c0"/><rect x="182" y="635" width="1" height="9" fill="#c0c0c0"/><rect x="190" y="636" width="1" height="8" fill="#c0c0c0"/><rect x="198" y="636" width="1" height="8" fill="#c0c0c0"/><rect x="206" y="636" width="1" height="8" fill="#c0c0c0"/><rect x="214" y="636" width="1" height="8" fill="#c0c0c0"/><rect x="222" y="637" width="1" height="7" fill="#c0c0c0"/><rect x="230" y="637" width="1" height="7" fill="#c0c0c0"/><rect x="238" y="638" width="1" height="6" fill="#c0c0c0"/><rect x="246" y="640" width="1" height="4" fill="#c0c0c0"/><rect x="254" y="641" width="1" height="3" fill="#c0c0c0"/><rect x="262" y="643" width="1" height="1" fill="#c0c0c0"/><rect x="270" y="643" width="1" height="1" fill="#c0c0c0"/><rect x="278" y="643" width="1" height="2" fill="#c0c0c0"/><rect x="286" y="643" width="1" height="2" fill="#c0c0c0"/><rect x="294" y="643" width="1" height="3" fill="#c0c0c0"/><rect x="302" y="643" width="1" height="3" fill="#c0c0c0"/><rect x="310" y="643" width="1" height="3" fill="#c0c0c0"/><rect x="318" y="643" width="1" height="4" fill="#c0c0c0"/><rect x="326" y="643" width="1" height="4" fill="#c0c0c0"/><rect x="334" y="643" width="1" height="5" fill="#c0c0c0"/><rect x="342" y="643" width="1" height="4" fill="#c0c0c0"/><rect x="350" y="643" width="1" height="5" fill="#c0c0c0"/><rect x="358" y="643" width="1" height="6" fill="#c0c0c0"/><rect x="366" y="643" width="1" height="6" fill="#c0c0c0"/><rect x="374" y="643" width="1" height="6" fill="#c0c0c0"/><rect x="382" y="643" width="1" height="6" fill="#c0c0c0"/><rect x="390" y="643" width="1" height="4" fill="#c0c0c0"/><rect x="398" y="643" width="1" height="3" fill="#c0c0c0"/><rect x="406" y="643" width="1" height="1" fill="#c0c0c0"/><rect x="414" y="643" width="1" height="1" fill="#c0c0c0"/><rect x="422" y="643" width="1" height="1" fill="#c0c0c0"/><rect x="430" y="643" width="1" height="1" fill="#c0c0c0"/><rect x="438" y="643" width="1" height="1" fill="#c0c0c0"/><rect x="446" y="643" width="1" height="1" fill="#c0c0c0"/><rect x="454" y="641" width="1" height="3" fill="#c0c0c0"/><rect x="462" y="641" width="1" height="3" fill="#c0c0c0"/><rect x="470" y="640" width="1" height="4" fill="#c0c0c0"/><rect x="478" y="639" width="1" height="5" fill="#c0c0c0"/><rect x="486" y="640" width="1" height="4" fill="#c0c0c0"/><rect x="494" y="640" width="1" height="4" fill="#c0c0c0"/><rect x="502" y="640" width="1" height="4" fill="#c0c0c0"/><rect x="510" y="639" width="1" height="5" fill="#c0c0c0"/><rect x="518" y="638" width="1" height="6" fill="#c0c0c0"/><rect x="526" y="637" width="1" height="7" fill="#c0c0c0"/><rect x="534" y="637" width="1" height="7" fill="#c0c0c0"/><rect x="542" y="637" width="1" height="7" fill="#c0c0c0"/><rect x="550" y="636" width="1" height="8" fill="#c0c0c0"/><rect x="558" y="635" width="1" height="9" fill="#c0c0c0"/><rect x="566" y="634" width="1" height="10" fill="#c0c0c0"/><rect x="574" y="633" width="1" height="11" fill="#c0c0c0"/><rect x="582" y="631" width="1" height="13" fill="#c0c0c0"/><rect x="590" y="631" width="1" height="13" fill="#c0c0c0"/><rect x="598" y="631" width="1" height="13" fill="#c0c0c0"/><rect x="606" y="632" width="1" height="12" fill="#c0c0c0"/><rect x="614" y="633" width="1" height="11" fill="#c0c0c0"/><rect x="622" y="634" width="1" height="10" fill="#c0c0c0"/><rect x="630" y="637" width="1" height="7" fill="#c0c0c0"/><rect x="638" y="640" width="1" height="4" fill="#c0c0c0"/><rect x="646" y="642" width="1" height="2" fill="#c0c0c0"/><rect x="654" y="643" width="1" height="1" fill="#c0c0c0"/><rect x="662" y="643" width="1" height="1" fill="#c0c0c0"/><rect x="670" y="643" width="1" height="1" fill="#c0c0c0"/><rect x="678" y="643" width="1" height="1" fill="#c0c0c0"/><rect x="686" y="643" width="1" height="1" fill="#c0c0c0"/><rect x="694" y="643" width="1" height="1" fill="#c0c0c0"/><rect x="702" y="643" width="1" height="1" fill="#c0c0c0"/><rect x="710" y="643" width="1" height="2" fill="#c0c0c0"/><rect x="718" y="643" width="1" height="2" fill="#c0c0c0"/><rect x="726" y="643" width="1" height="3" fill="#c0c0c0"/><rect x="734" y="643" width="1" height="4" fill="#c0c0c0"/><rect x="742" y="643" width="1" height="5" fill="#c0c0c0"/><rect x="750" y="643" width="1" height="5" fill="#c0c0c0"/><rect x="758" y="643" width="1" height="6" fill="#c0c0c0"/><rect x="766" y="643" width="1" height="8" fill="#c0c0c0"/><rect x="774" y="643" width="1" height="10" fill="#c0c0c0"/><rect x="782" y="643" width="1" height="11" fill="#c0c0c0"/><rect x="790" y="643" width="1" height="13" fill="#c0c0c0"/><rect x="798" y="643" width="1" height="15" fill="#c0c0c0"/><rect x="806" y="643" width="1" height="17" fill="#c0c0c0"/><rect x="814" y="643" width="1" height="18" fill="#c0c0c0"/><rect x="822" y="643" width="1" height="17" fill="#c0c0c0"/><rect x="830" y="643" width="1" height="16" fill="#c0c0c0"/><rect x="838" y="643" width="1" height="15" fill="#c0c0c0"/><rect x="846" y="643" width="1" height="16" fill="#c0c0c0"/><rect x="854" y="643" width="1" height="16" fill="#c0c0c0"/><rect x="862" y="643" width="1" height="16" fill="#c0c0c0"/><rect x="870" y="643" width="1" height="15" fill="#c0c0c0"/><rect x="878" y="643" width="1" height="14" fill="#c0c0c0"/><rect x="886" y="643" width="1" height="13" fill="#c0c0c0"/><rect x="894" y="643" width="1" height="12" fill="#c0c0c0"/><rect x="902" y="643" width="1" height="12" fill="#c0c0c0"/><rect x="910" y="643" width="1" height="11" fill="#c0c0c0"/><rect x="918" y="643" width="1" height="11" fill="#c0c0c0"/><rect x="926" y="643" width="1" height="11" fill="#c0c0c0"/><rect x="934" y="643" width="1" height="13" fill="#c0c0c0"/><rect x="942" y="643" width="1" height="13" fill="#c0c0c0"/><rect x="950" y="643" width="1" height="14" fill="#c0c0c0"/><rect x="958" y="643" width="1" height="14" fill="#c0c0c0"/><rect x="966" y="643" width="1" height="15" fill="#c0c0c0"/><rect x="974" y="643" width="1" height="17" fill="#c0c0c0"/><rect x="982" y="643" width="1" height="17" fill="#c0c0c0"/><rect x="990" y="643" width="1" height="20" fill="#c0c0c0"/><rect x="998" y="643" width="1" height="21" fill="#c0c0c0"/><rect x="1006" y="643" width="1" height="20" fill="#c0c0c0"/><rect x="1014" y="643" width="1" height="18" fill="#c0c0c0"/><rect x="1022" y="643" width="1" height="16" fill="#c0c0c0"/><rect x="1030" y="643" width="1" height="14" fill="#c0c0c0"/><rect x="1038" y="643" width="1" height="12" fill="#c0c0c0"/><rect x="1046" y="643" width="1" height="10" fill="#c0c0c0"/><rect x="1054" y="643" width="1" height="9" fill="#c0c0c0"/><rect x="1062" y="643" width="1" height="11" fill="#c0c0c0"/><rect x="1070" y="643" width="1" height="12" fill="#c0c0c0"/><rect x="1078" y="643" width="1" height="19" fill="#c0c0c0"/><rect x="1086" y="643" width="1" height="26" fill="#c0c0c0"/><rect x="1094" y="643" width="1" height="32" fill="#c0c0c0"/><rect x="1102" y="643" width="1" height="37" fill="#c0c0c0"/><rect x="1110" y="643" width="1" height="44" fill="#c0c0c0"/><rect x="1118" y="643" width="1" height="53" fill="#c0c0c0"/><rect x="1126" y="643" width="1" height="58" fill="#c0c0c0"/><rect x="1134" y="643" width="1" height="62" fill="#c0c0c0"/><rect x="1142" y="643" width="1" height="65" fill="#c0c0c0"/><rect x="1150" y="643" width="1" height="68" fill="#c0c0c0"/><rect x="1158" y="643" width="1" height="66" fill="#c0c0c0"/><rect x="1166" y="643" width="1" height="62" fill="#c0c0c0"/><rect x="1174" y="643" width="1" height="57" fill="#c0c0c0"/><rect x="1182" y="643" width="1" height="50" fill="#c0c0c0"/><rect x="1190" y="643" width="1" height="42" fill="#c0c0c0"/><rect x="1198" y="643" width="1" height="37" fill="#c0c0c0"/><rect x="1206" y="643" width="1" height="33" fill="#c0c0c0"/><rect x="1214" y="643" width="1" height="29" fill="#c0c0c0"/><rect x="1222" y="643" width="1" height="28" fill="#c0c0c0"/><rect x="1230" y="643" width="1" height="28" fill="#c0c0c0"/><rect x="1238" y="643" width="1" height="28" fill="#c0c0c0"/><rect x="1246" y="643" width="1" height="25" fill="#c0c0c0"/><rect x="1254" y="643" width="1" height="20" fill="#c0c0c0"/><rect x="1262" y="643" width="1" height="17" fill="#c0c0c0"/></g>
<polyline points="5.5,649.4 6.5,649.503 14.5,650.174 22.5,650.174 30.5,649.101 38.5,648.832 46.5,648.43 54.5,648.161 62.5,647.758 70.5,647.49 78.5,646.148 86.5,645.074 94.5,644.403 102.5,643.195 110.5,642.523 118.5,641.718 126.5,640.376 134.5,639.839 142.5,639.436 150.5,638.497 158.5,638.094 166.5,637.826 174.5,637.423 182.5,637.423 190.5,637.154 198.5,636.349 206.5,636.483 214.5,636.483 222.5,635.409 230.5,635.409 238.5,635.409 246.5,636.349 254.5,637.423 262.5,637.423 270.5,638.362 278.5,639.436 286.5,640.51 294.5,641.181 302.5,642.389 310.5,643.866 318.5,644.537 326.5,645.208 334.5,645.477 342.5,646.148 350.5,646.416 358.5,647.758 366.5,647.758 374.5,648.564 382.5,648.564 390.5,648.564 398.5,648.161 406.5,647.49 414.5,647.49 422.5,646.55 430.5,646.416 438.5,645.477 446.5,644.403 454.5,644.403 462.5,643.463 470.5,642.523 478.5,641.45 486.5,641.45 494.5,640.51 502.5,640.51 510.5,639.436 518.5,639.436 526.5,638.497 534.5,638.362 542.5,638.362 550.5,637.423 558.5,637.423 566.5,636.483 574.5,635.409 582.5,634.336 590.5,634.336 598.5,633.396 606.5,632.456 614.5,632.456 622.5,632.456 630.5,632.456 638.5,633.396 646.5,634.336 654.5,635.409 662.5,636.483 670.5,638.094 678.5,639.436 686.5,640.376 694.5,641.45 702.5,642.389 710.5,643.463 718.5,643.463 726.5,644.403 734.5,644.403 742.5,645.477 750.5,645.477 758.5,646.416 766.5,647.49 774.5,648.43 782.5,649.503 790.5,650.577 798.5,652.456 806.5,653.262 814.5,654.604 822.5,655.544 830.5,656.215 838.5,657.289 846.5,658.497 854.5,658.497 862.5,658.497 870.5,658.497 878.5,658.497 886.5,657.557 894.5,657.289 902.5,656.483 910.5,656.483 918.5,655.544 926.5,655.544 934.5,654.47 942.5,654.47 950.5,654.47 958.5,654.47 966.5,655.544 974.5,655.544 982.5,656.483 990.5,657.289 998.5,658.497 1006.5,659.7 1014.5,659.7 1022.5,660.6 1030.5,660.6 1038.5,660.6 1046.5,659.3 1054.5,658.4 1062.5,657.5 1070.5,657.5 1078.5,656.6 1086.5,657.3 1094.5,659.3 1102.5,662.4 1110.5,666.1 1118.5,670.3 1126.5,675.2 1134.5,682.2 1142.5,687.1 1150.5,692.6 1158.5,697.2 1166.5,700.8 1174.5,703.2 1182.5,703.6 1190.5,702.7 1198.5,699.9 1206.5,696.3 1214.5,692.6 1222.5,688.4 1230.5,684.4 1238.5,680.7 1246.5,677 1254.5,673.8 1262.5,670.6" fill="none" stroke="#ff0000" stroke-width="1" stroke-dasharray="3 3"/>
<path d="M9 29h7l-3.5 4z" fill="#000"/>
</g>
<g>
<text x="1604" y="34" font-size="9.1" fill="#000" stroke="#000" stroke-width="0.22" >0.70870</text>
<text x="1604" y="67" font-size="9.1" fill="#000" stroke="#000" stroke-width="0.22" >0.69790</text>
<text x="1604" y="100" font-size="9.1" fill="#000" stroke="#000" stroke-width="0.22" >0.68710</text>
<text x="1604" y="133" font-size="9.1" fill="#000" stroke="#000" stroke-width="0.22" >0.67660</text>
<text x="1604" y="166" font-size="9.1" fill="#000" stroke="#000" stroke-width="0.22" >0.66580</text>
<text x="1604" y="199" font-size="9.1" fill="#000" stroke="#000" stroke-width="0.22" >0.65500</text>
<text x="1604" y="232" font-size="9.1" fill="#000" stroke="#000" stroke-width="0.22" >0.64420</text>
<text x="1604" y="265" font-size="9.1" fill="#000" stroke="#000" stroke-width="0.22" >0.63370</text>
<text x="1604" y="298" font-size="9.1" fill="#000" stroke="#000" stroke-width="0.22" >0.62290</text>
<text x="1604" y="331" font-size="9.1" fill="#000" stroke="#000" stroke-width="0.22" >0.61210</text>
<text x="1604" y="364" font-size="9.1" fill="#000" stroke="#000" stroke-width="0.22" >0.60130</text>
<text x="1604" y="397" font-size="9.1" fill="#000" stroke="#000" stroke-width="0.22" >0.59080</text>
<text x="1604" y="430" font-size="9.1" fill="#000" stroke="#000" stroke-width="0.22" >0.58000</text>
<text x="1604" y="463" font-size="9.1" fill="#000" stroke="#000" stroke-width="0.22" >0.56920</text>
<text x="1604" y="496" font-size="9.1" fill="#000" stroke="#000" stroke-width="0.22" >0.55840</text>
<g clip-path="url(#cm)"><text x="1604" y="529" font-size="9.1" fill="#000" stroke="#000" stroke-width="0.22" >0.54790</text></g>
<rect x="1600" y="319" width="40" height="11" fill="#000"/>
<text x="1604" y="327.2" font-size="9.1" fill="#fff" stroke="#fff" stroke-width="0.22" >0.61313</text>
<rect x="1600" y="142" width="40" height="11" fill="#ff0000"/>
<text x="1604" y="151" font-size="9.1" fill="#fff" stroke="#fff" stroke-width="0.22" >0.67026</text>
<rect x="1600" y="204" width="40" height="11" fill="#ff0000"/>
<text x="1604" y="213" font-size="9.1" fill="#fff" stroke="#fff" stroke-width="0.22" >0.65015</text>
<rect x="1600" y="266" width="40" height="11" fill="#ff0000"/>
<text x="1604" y="275" font-size="9.1" fill="#fff" stroke="#fff" stroke-width="0.22" >0.63003</text>
<rect x="1600" y="327" width="40" height="11" fill="#ff0000"/>
<text x="1604" y="336" font-size="9.1" fill="#fff" stroke="#fff" stroke-width="0.22" >0.61017</text>
<rect x="1600" y="389" width="40" height="11" fill="#00ff00"/>
<text x="1604" y="398" font-size="9.1" fill="#fff" stroke="#fff" stroke-width="0.22" >0.58994</text>
<rect x="1600" y="450" width="40" height="11" fill="#0000ff"/>
<text x="1604" y="459" font-size="9.1" fill="#fff" stroke="#fff" stroke-width="0.22" >0.57008</text>
<rect x="1600" y="512" width="40" height="11" fill="#0000ff"/>
<text x="1604" y="521" font-size="9.1" fill="#fff" stroke="#fff" stroke-width="0.22" >0.55021</text>
<text x="1602" y="541" font-size="9.1" fill="#000" stroke="#000" stroke-width="0.22" >100</text>
<text x="1602" y="562" font-size="9.1" fill="#000" stroke="#000" stroke-width="0.22" >70</text>
<text x="1602" y="598" font-size="9.1" fill="#000" stroke="#000" stroke-width="0.22" >30</text>
<text x="1602" y="619" font-size="9.1" fill="#000" stroke="#000" stroke-width="0.22" >0</text>
<text x="1602" y="635" font-size="9.1" fill="#000" stroke="#000" stroke-width="0.22" >0.005923</text>
<text x="1602" y="647" font-size="9.1" fill="#000" stroke="#000" stroke-width="0.22" >0.00</text>
<text x="1602" y="713" font-size="9.1" fill="#000" stroke="#000" stroke-width="0.22" >-0.023944</text>
<text x="22" y="34" font-size="9.7" fill="#000" stroke="#000" stroke-width="0.22" >AUDUSD,Daily</text>
<text x="93" y="34" font-size="9.2" fill="#000" stroke="#000" stroke-width="0.22" >0.61848 0.62013 0.61216 0.61313</text>
<text x="10" y="543" font-size="9.2" fill="#000" stroke="#000" stroke-width="0.22" >RSI(14) 48.8630</text>
<text x="10" y="637" font-size="9.37" fill="#000" stroke="#000" stroke-width="0.22" >MACD(12,26,9) -0.005564 -0.008895</text>
<text x="4.5" y="729" font-size="9.3" fill="#000" stroke="#000" stroke-width="0.22" textLength="46.6" lengthAdjust="spacingAndGlyphs">8 Oct 2019</text>
<text x="69" y="729" font-size="9.3" fill="#000" stroke="#000" stroke-width="0.22" textLength="51.4" lengthAdjust="spacingAndGlyphs">17 Oct 2019</text>
<text x="132.75" y="729" font-size="9.3" fill="#000" stroke="#000" stroke-width="0.22" textLength="51.4" lengthAdjust="spacingAndGlyphs">26 Oct 2019</text>
<text x="197" y="729" font-size="9.3" fill="#000" stroke="#000" stroke-width="0.22" textLength="49.6" lengthAdjust="spacingAndGlyphs">5 Nov 2019</text>
<text x="260.75" y="729" font-size="9.3" fill="#000" stroke="#000" stroke-width="0.22" textLength="54.1" lengthAdjust="spacingAndGlyphs">14 Nov 2019</text>
<text x="325" y="729" font-size="9.3" fill="#000" stroke="#000" stroke-width="0.22" textLength="54.1" lengthAdjust="spacingAndGlyphs">23 Nov 2019</text>
<text x="389" y="729" font-size="9.3" fill="#000" stroke="#000" stroke-width="0.22" textLength="47.1" lengthAdjust="spacingAndGlyphs">3 Dec 2019</text>
<text x="452.75" y="729" font-size="9.3" fill="#000" stroke="#000" stroke-width="0.22" textLength="52.1" lengthAdjust="spacingAndGlyphs">12 Dec 2019</text>
<text x="517" y="729" font-size="9.3" fill="#000" stroke="#000" stroke-width="0.22" textLength="52.6" lengthAdjust="spacingAndGlyphs">21 Dec 2019</text>
<text x="580.75" y="729" font-size="9.3" fill="#000" stroke="#000" stroke-width="0.22" textLength="52.6" lengthAdjust="spacingAndGlyphs">31 Dec 2019</text>
<text x="645" y="729" font-size="9.3" fill="#000" stroke="#000" stroke-width="0.22" textLength="45.4" lengthAdjust="spacingAndGlyphs">9 Jan 2020</text>
<text x="708.75" y="729" font-size="9.3" fill="#000" stroke="#000" stroke-width="0.22" textLength="50.9" lengthAdjust="spacingAndGlyphs">18 Jan 2020</text>
<text x="772.75" y="729" font-size="9.3" fill="#000" stroke="#000" stroke-width="0.22" textLength="50.6" lengthAdjust="spacingAndGlyphs">28 Jan 2020</text>
<text x="836.5" y="729" font-size="9.3" fill="#000" stroke="#000" stroke-width="0.22" textLength="48.1" lengthAdjust="spacingAndGlyphs">6 Feb 2020</text>
<text x="900.75" y="729" font-size="9.3" fill="#000" stroke="#000" stroke-width="0.22" textLength="52.6" lengthAdjust="spacingAndGlyphs">15 Feb 2020</text>
<text x="964.5" y="729" font-size="9.3" fill="#000" stroke="#000" stroke-width="0.22" textLength="52.9" lengthAdjust="spacingAndGlyphs">25 Feb 2020</text>
<text x="1028.75" y="729" font-size="9.3" fill="#000" stroke="#000" stroke-width="0.22" textLength="47.9" lengthAdjust="spacingAndGlyphs">5 Mar 2020</text>
<text x="1092.75" y="729" font-size="9.3" fill="#000" stroke="#000" stroke-width="0.22" textLength="52.6" lengthAdjust="spacingAndGlyphs">14 Mar 2020</text>
<text x="1156.5" y="729" font-size="9.3" fill="#000" stroke="#000" stroke-width="0.22" textLength="52.6" lengthAdjust="spacingAndGlyphs">24 Mar 2020</text>
<text x="1220.4" y="729" font-size="9.3" fill="#000" stroke="#000" stroke-width="0.22" textLength="47.1" lengthAdjust="spacingAndGlyphs">2 Apr 2020</text>
</g>
</svg>
<div id="tl0"></div><div id="tabs"></div><div id="tl1"></div><div id="foot"></div>
<div id="act"></div>
<span class="tb" style="left:19px;letter-spacing:0.033px">EURUSD,Daily</span><span class="tb" style="left:120.75px;letter-spacing:0.115px">USDCHF,Daily</span><span class="tb act" style="left:222.1px;letter-spacing:0.171px">AUDUSD,Daily</span><span class="tb" style="left:325.75px;letter-spacing:0.054px">USDCAD,Daily</span><span class="tb" style="left:428.75px;letter-spacing:0.208px">USDCNH,Daily</span><span class="tb" style="left:534.5px;letter-spacing:0.054px">EURUSD,Daily</span><span class="tb" style="left:636.5px;letter-spacing:0.119px">GBPUSD,M5</span><span class="tb" style="left:729.5px;letter-spacing:0.088px">XAUUSD,H1</span><span class="tb" style="left:821.5px;letter-spacing:0.299px">HK50,H1</span><span class="tb" style="left:893.75px;letter-spacing:0.279px">UK100,H1</span><span class="tb" style="left:973.75px;letter-spacing:0.248px">UK100,H1</span><span class="tb" style="left:1053.75px;letter-spacing:-0.051px">GER30,H1</span><span class="tb" style="left:1133.25px;letter-spacing:-0.147px">FRA40,H1</span><span class="tb" style="left:1208.9px;letter-spacing:0.155px">USOil,H1</span><span class="tb" style="left:1280.8px;letter-spacing:-0.120px">USDJPY,H1</span><i class="sp" style="left:111px"></i><i class="sp" style="left:419px"></i><i class="sp" style="left:523px"></i><i class="sp" style="left:627px"></i><i class="sp" style="left:719px"></i><i class="sp" style="left:811px"></i><i class="sp" style="left:883px"></i><i class="sp" style="left:963px"></i><i class="sp" style="left:1043px"></i><i class="sp" style="left:1123px"></i><i class="sp" style="left:1199px"></i><i class="sp" style="left:1271px"></i><i class="sp" style="left:1355px"></i>
<svg width="100" height="20" style="position:absolute;left:1600px;top:740px"><path d="M17 5v7l-4-3.5z M31 5v7l4-3.5z" fill="#9a9a9a"/></svg>
</body></html>
